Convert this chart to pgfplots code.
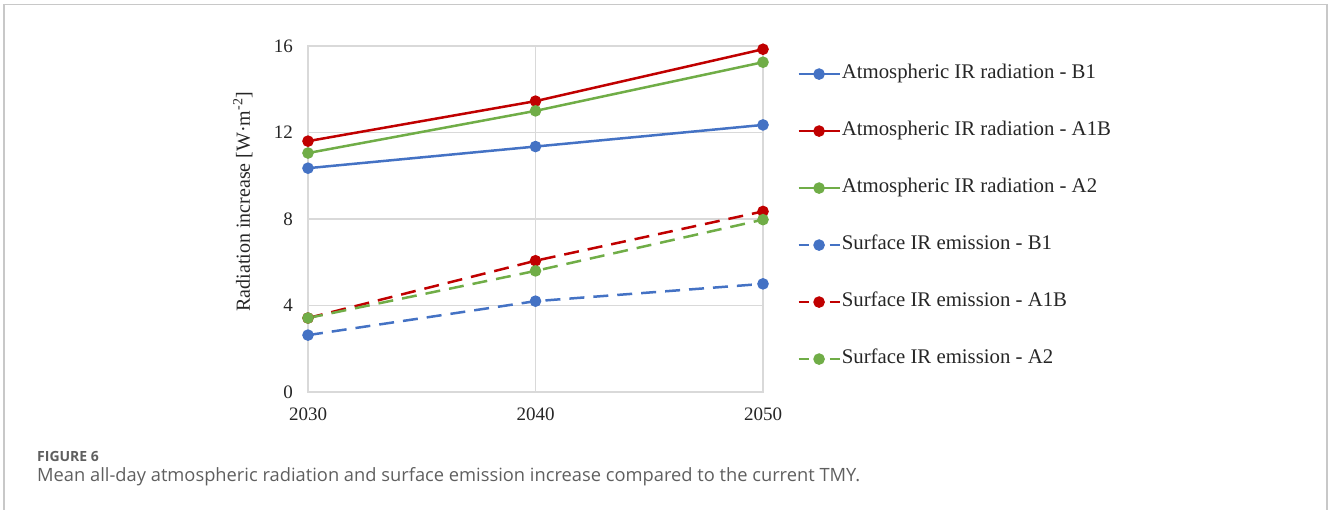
\documentclass[border=0pt]{standalone}
\usepackage{pgfplots}
\pgfplotsset{compat=1.18}
\usepackage{fontspec}
\setmainfont{Liberation Serif}
\newfontfamily\capfont{Open Sans}
\definecolor{cB}{HTML}{4472C4}
\definecolor{cR}{HTML}{C00000}
\definecolor{cG}{HTML}{70AD47}
\definecolor{gridc}{HTML}{D9D9D9}
\definecolor{txt}{HTML}{262626}
\definecolor{capc}{HTML}{5F5F5F}
\definecolor{framec}{HTML}{C8C8C8}
\pgfplotsset{
  solidleg/.style={legend image code/.code={%
    \draw[mark repeat=2,mark phase=2,##1,solid] plot coordinates {(0pt,0pt) (20.5pt,0pt) (41pt,0pt)};}},
  dashleg/.style={legend image code/.code={%
    \draw[##1,solid] (0pt,0pt)--(10pt,0pt) (31pt,0pt)--(41pt,0pt);
    \draw[##1,solid] plot coordinates {(20.5pt,0pt)};}},
}
\begin{document}
\begin{tikzpicture}[x=1pt,y=1pt]
\path[use as bounding box] (0,0) rectangle (1328,510);
\draw[framec, line width=1.5pt] (4,0) -- (4,505.5) -- (1327,505.5) -- (1327,0);
\begin{axis}[
  at={(308pt,118pt)}, anchor=south west, scale only axis,
  width=455pt, height=346pt,
  xmin=2030, xmax=2050, ymin=0, ymax=16,
  xtick={2030,2040,2050}, xticklabels={2030,2040,2050},
  ytick={0,4,8,12,16},
  major tick length=0pt,
  grid=major,
  major grid style={gridc, line width=1.1pt},
  axis line style={gridc, line width=1.1pt},
  tick label style={font=\fontsize{19}{22}\selectfont, text=txt},
  /pgf/number format/assume math mode=true,
  yticklabel style={inner sep=0pt, xshift=-15pt},
  xticklabel style={inner sep=0pt, yshift=-16pt},
  ylabel={Radiation increase [W·m\textsuperscript{-2}]},
  every axis y label/.style={at={(axis description cs:-0.143,0.55)}, rotate=90, anchor=center,
    font=\fontsize{20}{23}\selectfont, text=txt},
  legend cell align=left,
  legend style={draw=none, fill=none, at={(rel axis cs:1.075,0.944)}, anchor=north west,
    inner sep=0pt, row sep=40pt, column sep=1pt,
    nodes={inner sep=0pt, text height=13pt, text depth=4pt, text=txt},
    font=\fontsize{20.8}{23}\selectfont},
  every axis plot/.append style={line width=2.5pt, mark=*, mark size=4.5pt, mark options={solid}},
]
\addplot[cB, solidleg]
  coordinates {(2030,10.35) (2040,11.35) (2050,12.35)};
\addlegendentry{Atmospheric IR radiation - B1}
\addplot[cR, solidleg]
  coordinates {(2030,11.6) (2040,13.45) (2050,15.85)};
\addlegendentry{Atmospheric IR radiation - A1B}
\addplot[cG, solidleg]
  coordinates {(2030,11.05) (2040,13.0) (2050,15.25)};
\addlegendentry{Atmospheric IR radiation - A2}
\addplot[cB, dash pattern=on 15pt off 9pt, dashleg]
  coordinates {(2030,2.63) (2040,4.2) (2050,5.0)};
\addlegendentry{Surface IR emission - B1}
\addplot[cR, dash pattern=on 15pt off 9pt, dashleg]
  coordinates {(2030,3.42) (2040,6.07) (2050,8.35)};
\addlegendentry{Surface IR emission - A1B}
\addplot[cG, dash pattern=on 15pt off 9pt, dashleg]
  coordinates {(2030,3.42) (2040,5.6) (2050,7.97)};
\addlegendentry{Surface IR emission - A2}
\end{axis}
\node[anchor=base west, inner sep=0pt, font=\capfont\bfseries\fontsize{14}{16}\selectfont, text=capc] at (37,48) {FIGURE 6};
\node[anchor=base west, inner sep=0pt, font=\capfont\fontsize{18.3}{21}\selectfont, text=capc] at (37,28) {Mean all-day atmospheric radiation and surface emission increase compared to the current TMY.};
\end{tikzpicture}
\end{document}
